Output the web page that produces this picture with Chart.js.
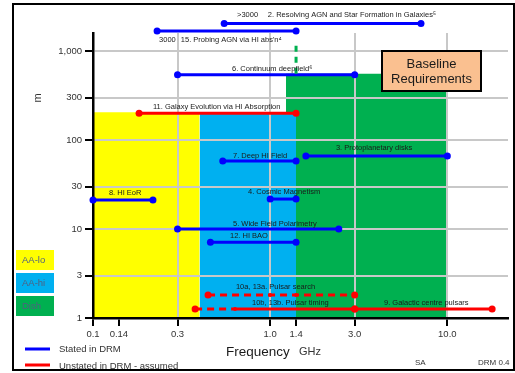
<!DOCTYPE html>
<html lang="en">
<head>
  <meta charset="UTF-8" />
  <title>Baseline Requirements</title>
  <script src="https://cdn.jsdelivr.net/npm/chart.js"></script>
  <style>
    html, body { margin: 0; padding: 0; background: #fff; }
    #wrap { width: 515px; height: 373px; }
  </style>
</head>
<body>
  <div id="wrap"><canvas id="drmChart" width="515" height="373"></canvas></div>

  <script>
    // axis ticks
    const freqTicks = [0.1, 0.14, 0.3, 1.0, 1.4, 3.0, 10.0];
    const freqTickLabels = ['0.1', '0.14', '0.3', '1.0', '1.4', '3.0', '10.0'];
    const baseTicks = [1, 3, 10, 30, 100, 300, 1000];
    const baseTickLabels = ['1', '3', '10', '30', '100', '300', '1,000'];

    // receiver bands (GHz range, max baseline m)
    const bandNames = ['AA-hi', 'AA-lo', 'Dish'];
    const bandLow = [0.4, 0.1, 1.228];
    const bandHigh = [1.4, 0.4, 10];
    const bandTop = [205, 205, 555];

    // requirements stated in DRM
    const statedNames = ['2', '15', '6', '3', '7', '4', '5', '12', '8'];
    const statedLow = [0.55, 0.23, 0.3, 1.59, 0.54, 1.0, 0.3, 0.46, 0.1];
    const statedHigh = [7.1, 1.4, 3.0, 10, 1.4, 1.4, 2.44, 1.4, 0.218];
    const statedBaseline = [2030, 1680, 540, 66, 58, 21.7, 10, 7.1, 21.2];

    // requirements not stated in DRM (assumed)
    const assumedNames = ['11', '10b/13b', '9'];
    const assumedLow = [0.182, 0.633, 3.0];
    const assumedHigh = [1.4, 3.0, 17.9];
    const assumedBaseline = [200, 1.26, 1.26];

    // dashed (assumed) extensions
    const extNames = ['10a/13a', '10b/13b'];
    const extFreqs = [[0.446, 1.0, 1.4, 3.0], [0.377, 0.633]];
    const extBaseline = [1.81, 1.26];

    // 1.4 GHz limit marker
    const hiLimitFreq = 1.4;
    const hiLimitRange = [555, 1260];

    // annotations
    const noteTexts = ['>3000', '2. Resolving AGN and Star Formation in Galaxies\u2075', '3000',
      '15. Probing AGN via HI abs\'n\u2074', '6. Continuum deepfield\u2076',
      '11. Galaxy Evolution via HI Absorption', '3. Protoplanetary disks', '7. Deep HI Field',
      '4. Cosmic Magnetism', '5. Wide Field Polarimetry', '12. HI BAO', '8. HI EoR',
      '10a, 13a. Pulsar search', '10b, 13b. Pulsar timing', '9. Galactic centre pulsars'];
    const noteFreq = [0.65, 0.97, 0.236, 0.313, 0.609, 0.218, 2.35, 0.617, 0.75, 0.617, 0.593, 0.123, 0.641, 0.79, 4.39];
    const noteBaseline = [2540, 2540, 1330, 1330, 628, 235, 81.3, 66.1, 26.0, 11.4, 8.35, 25.4, 2.23, 1.48, 1.48];

    const FONT = 'Arial, "Liberation Sans", sans-serif';
    const bandColors = { 'AA-lo': '#FFFF00', 'AA-hi': '#00B0F0', 'Dish': '#00B050' };
    const BLUE = '#0000FF';
    const RED = '#FF0000';

    const datasets = [];

    bandNames.forEach((n, i) => {
      datasets.push({
        label: n,
        data: [{ x: bandLow[i], y: bandTop[i] }, { x: bandHigh[i], y: bandTop[i] }],
        borderWidth: 0,
        borderColor: 'rgba(0,0,0,0)',
        backgroundColor: bandColors[n],
        fill: 'start',
        pointRadius: 0
      });
    });

    datasets.push({
      label: 'limit',
      data: hiLimitRange.map(v => ({ x: hiLimitFreq, y: v })),
      borderColor: '#00B050',
      borderWidth: 3,
      borderDash: [6, 5],
      pointRadius: 0,
      fill: false,
      clip: false
    });

    statedNames.forEach((n, i) => {
      datasets.push({
        label: n,
        data: [{ x: statedLow[i], y: statedBaseline[i] }, { x: statedHigh[i], y: statedBaseline[i] }],
        borderColor: BLUE,
        backgroundColor: BLUE,
        borderWidth: 3,
        pointRadius: 3.5,
        pointBorderWidth: 0,
        fill: false,
        clip: false
      });
    });

    assumedNames.forEach((n, i) => {
      datasets.push({
        label: n,
        data: [{ x: assumedLow[i], y: assumedBaseline[i] }, { x: assumedHigh[i], y: assumedBaseline[i] }],
        borderColor: RED,
        backgroundColor: RED,
        borderWidth: 3,
        pointRadius: n === '10b/13b' ? [0, 3.5] : 3.5,
        pointBorderWidth: 0,
        fill: false,
        clip: false
      });
    });

    extNames.forEach((n, i) => {
      const pts = extFreqs[i];
      datasets.push({
        label: n,
        data: pts.map(f => ({ x: f, y: extBaseline[i] })),
        borderColor: RED,
        backgroundColor: RED,
        borderWidth: 3,
        borderDash: [7, 5],
        pointRadius: pts.map((f, j) => (j === 0 || (j === pts.length - 1 && n !== '10b/13b')) ? 3.5 : 2),
        pointBorderWidth: 0,
        fill: false,
        clip: false
      });
    });

    function txt(ctx, s, x, y, font, color, align) {
      ctx.font = font;
      ctx.fillStyle = color;
      ctx.textAlign = align || 'left';
      ctx.textBaseline = 'middle';
      ctx.fillText(s, x, y);
    }

    const decor = {
      id: 'decor',
      afterDatasetsDraw(chart) {
        const ctx = chart.ctx;
        const xs = chart.scales.x, ys = chart.scales.y;
        const area = chart.chartArea;
        ctx.save();
        // Chart.js skips points outside the chart area; draw those ourselves
        chart.getSortedVisibleDatasetMetas().forEach(meta => {
          meta.data.forEach(pt => {
            const o = pt.options;
            if (!o || o.radius < 0.1) return;
            if (pt.y < area.top - o.radius) {
              ctx.fillStyle = o.backgroundColor;
              ctx.beginPath();
              ctx.arc(pt.x, pt.y, o.radius, 0, Math.PI * 2);
              ctx.fill();
            }
          });
        });
        noteTexts.forEach((t, i) => {
          txt(ctx, t, xs.getPixelForValue(noteFreq[i]), ys.getPixelForValue(noteBaseline[i]),
            '7.5px ' + FONT, '#1a1a1a');
        });
        ctx.restore();
      },
      afterDraw(chart) {
        const ctx = chart.ctx;
        ctx.save();

        // outer frame
        ctx.strokeStyle = '#000';
        ctx.lineWidth = 2;
        ctx.strokeRect(13, 4, 501, 366);

        // Baseline Requirements box
        ctx.fillStyle = '#FAC090';
        ctx.fillRect(382, 51, 99, 40);
        ctx.strokeRect(382, 51, 99, 40);
        txt(ctx, 'Baseline', 431.5, 64, '13px ' + FONT, '#1a1a1a', 'center');
        txt(ctx, 'Requirements', 431.5, 79, '13px ' + FONT, '#1a1a1a', 'center');

        // band key
        const keyY = [250, 273, 296];
        ['AA-lo', 'AA-hi', 'Dish'].forEach((n, i) => {
          ctx.fillStyle = bandColors[n];
          ctx.fillRect(16, keyY[i], 38, 20);
          txt(ctx, n, 22, keyY[i] + 10, '9.5px ' + FONT, '#4F6080');
        });

        // line key
        ctx.lineWidth = 3;
        ctx.strokeStyle = BLUE;
        ctx.beginPath(); ctx.moveTo(25, 349); ctx.lineTo(50, 349); ctx.stroke();
        ctx.strokeStyle = RED;
        ctx.beginPath(); ctx.moveTo(25, 365); ctx.lineTo(50, 365); ctx.stroke();
        txt(ctx, 'Stated in DRM', 59, 349, '9.5px ' + FONT, '#333');
        txt(ctx, 'Unstated in DRM - assumed', 59, 366, '9.5px ' + FONT, '#333');

        // axis titles
        txt(ctx, 'Frequency', 226, 352, '13.5px ' + FONT, '#1a1a1a');
        txt(ctx, 'GHz', 299, 352, '11px ' + FONT, '#333');
        ctx.save();
        ctx.translate(38, 98);
        ctx.rotate(-Math.PI / 2);
        txt(ctx, 'm', 0, 0, '11px ' + FONT, '#333', 'center');
        ctx.restore();

        txt(ctx, 'SA', 415, 363, '8px ' + FONT, '#333');
        txt(ctx, 'DRM 0.4', 478, 363, '8px ' + FONT, '#333');

        ctx.restore();
      }
    };

    const gridColor = '#C8C8C8';

    new Chart(document.getElementById('drmChart'), {
      type: 'line',
      data: { datasets: datasets },
      options: {
        responsive: false,
        animation: false,
        events: [],
        layout: { padding: { left: 0, right: 7, top: 33, bottom: 0 } },
        plugins: {
          legend: { display: false },
          tooltip: { enabled: false },
          filler: { drawTime: 'beforeDraw' }
        },
        scales: {
          x: {
            type: 'logarithmic',
            min: 0.1,
            max: 22,
            afterBuildTicks: s => { s.ticks = freqTicks.map(v => ({ value: v })); },
            afterFit: s => { s.height = 55; },
            grid: {
              color: c => (c.tick && [0.3, 1, 3, 10].includes(c.tick.value)) ? gridColor : 'rgba(0,0,0,0)',
              lineWidth: 2,
              tickColor: '#000',
              tickLength: 8,
              tickWidth: 2
            },
            border: { display: true, color: '#000', width: 2.5 },
            ticks: {
              autoSkip: false,
              maxRotation: 0,
              padding: 3,
              color: '#333',
              font: { family: FONT, size: 9.5 },
              callback: (v, i) => freqTickLabels[i]
            }
          },
          y: {
            type: 'logarithmic',
            min: 1,
            max: 1592,
            afterBuildTicks: s => { s.ticks = baseTicks.map(v => ({ value: v })); },
            afterFit: s => { s.width = 93; },
            grid: {
              color: c => (c.tick && c.tick.value > 1) ? gridColor : 'rgba(0,0,0,0)',
              lineWidth: 2,
              tickColor: '#000',
              tickLength: 8,
              tickWidth: 2
            },
            border: { display: true, color: '#000', width: 2.5 },
            ticks: {
              autoSkip: false,
              padding: 3,
              color: '#333',
              font: { family: FONT, size: 9.5 },
              callback: (v, i) => baseTickLabels[i]
            }
          }
        }
      },
      plugins: [decor]
    });
  </script>
</body>
</html>
